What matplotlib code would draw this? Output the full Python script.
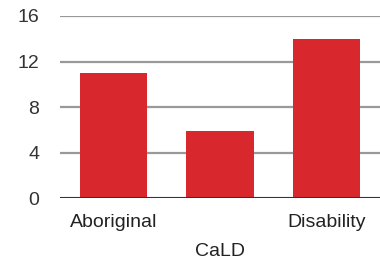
import matplotlib
matplotlib.use("Agg")
import matplotlib.pyplot as plt

# data
groups = ["Aboriginal", "CaLD", "Disability"]
counts = [11, 5.9, 14]
y_ticks = [0, 4, 8, 12, 16]

plt.rcParams['font.family'] = ['Liberation Sans', 'DejaVu Sans']

fig = plt.figure(figsize=(3.8, 2.61), dpi=100)
ax = fig.add_axes([60 / 380, 1 - 198.3 / 261, 320 / 380, (198.3 - 16) / 261])

x = list(range(len(groups)))
ax.bar(x, counts, width=0.63, color="#D8282E", zorder=3)

ax.set_xlim(-0.5, len(groups) - 0.5)
ax.set_ylim(0, 16)
ax.set_yticks(y_ticks)
ax.set_yticklabels([str(t) for t in y_ticks], fontsize=14, color="#333333")
ax.tick_params(axis="y", length=0, pad=15)

for t in y_ticks[1:]:
    ax.axhline(t, color="#999999", lw=1.6, zorder=1)
ax.axhline(0, color="#333333", lw=1.5, zorder=4)

# staggered category labels
ax.set_xticks([])
for i, g in enumerate(groups):
    off = -11 if i % 2 == 0 else -32
    ax.annotate(g, (i, 0), xycoords=ax.get_xaxis_transform(),
                xytext=(0, off), textcoords="offset points",
                ha="center", va="top", fontsize=14, color="#222222")

for s in ax.spines.values():
    s.set_visible(False)

fig.savefig("out.png", dpi=100)
